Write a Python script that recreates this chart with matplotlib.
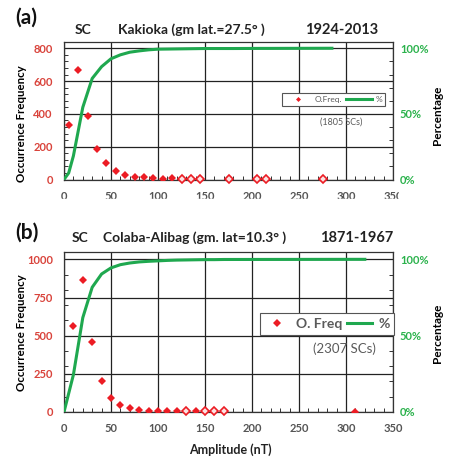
import matplotlib
matplotlib.use('Agg')
import matplotlib.pyplot as plt
from matplotlib.patches import Rectangle
from matplotlib.ticker import MultipleLocator, FuncFormatter

plt.rcParams['font.family'] = ['Lato', 'DejaVu Sans']
plt.rcParams['font.weight'] = 'bold'

# Panel (a): Kakioka
a_amp = [5, 15, 25, 35, 45, 55, 65, 75, 85, 95, 105, 115, 125, 135, 145, 175, 205, 215, 275]
a_freq = [330, 670, 388, 185, 102, 53, 27, 13, 13, 10, 4, 7, 3, 3, 3, 2, 2, 2, 2]
a_open = [125, 135, 145, 175, 205, 215, 275]
a_line_x = [0, 5, 10, 20, 30, 40, 50, 60, 70, 80, 90, 100, 110, 120, 130, 140, 150, 180, 210, 220, 280, 285]
a_line_pct = [0, 5, 18, 55, 77, 86, 92, 95, 97, 98, 98.8, 99.3, 99.4, 99.5, 99.6, 99.7, 99.8, 99.8, 99.9, 99.9, 100, 100]

# Panel (b): Colaba-Alibag
b_amp = [10, 20, 30, 40, 50, 60, 70, 80, 90, 100, 110, 120, 130, 140, 150, 160, 170, 310]
b_freq = [563, 862, 458, 201, 90, 46, 24, 13, 9, 6, 7, 7, 5, 7, 5, 5, 5, 3]
b_open = [130, 150, 160, 170]
b_line_x = [0, 10, 20, 30, 40, 50, 60, 70, 80, 90, 100, 110, 120, 130, 140, 150, 160, 170, 310, 320]
b_line_pct = [0, 24.4, 61.8, 81.7, 90.4, 94.4, 96.5, 97.6, 98.3, 98.7, 99.0, 99.3, 99.5, 99.6, 99.7, 99.8, 99.8, 99.9, 100, 100]

RED = '#ec1c24'
RED_TXT = '#d9433b'
GREEN = '#1fa84f'
GREEN_TXT = '#2bb24c'
GRAY = '#5a5a5a'

W = 463.0


def fx(px):
    return px / W


def fy(py):
    return 1 - py / W


def panel(rect, amp, freq, open_x, lx, lpct, ymax, ystep, yminor,
          leg_pos, leg_fs, leg_hl, leg_ms, note, note_pos, note_fs):
    ax = fig.add_axes(rect)
    filled_x = [x for x in amp if x not in open_x]
    filled_y = [y for x, y in zip(amp, freq) if x not in open_x]
    hollow_y = [y for x, y in zip(amp, freq) if x in open_x]
    pts, = ax.plot(filled_x, filled_y, 'D', color=RED, markersize=4.2,
                   markeredgewidth=0, linestyle='none', label='O. Freq', zorder=3)
    ax.plot(open_x, hollow_y, 'D', markerfacecolor='#fbe3e3', markeredgecolor=RED,
            markersize=3.8, markeredgewidth=1.2, linestyle='none', zorder=3, clip_on=False)
    ax.set_xlim(0, 350)
    ax.set_ylim(0, ymax * 1.05)
    ax.xaxis.set_major_locator(MultipleLocator(50))
    ax.xaxis.set_minor_locator(MultipleLocator(10))
    ax.yaxis.set_major_locator(MultipleLocator(ystep))
    ax.yaxis.set_minor_locator(MultipleLocator(yminor))
    ax.grid(True, which='major', color='#222222', linewidth=0.9)
    ax.tick_params(which='major', length=0)
    ax.tick_params(axis='x', which='major', pad=8, labelsize=8, labelcolor='#555555')
    ax.tick_params(axis='y', which='major', pad=8, labelsize=8, labelcolor=RED_TXT)
    ax.tick_params(which='minor', direction='in', length=3, width=0.7, color='#333333')
    for s in ax.spines.values():
        s.set_color('#333333')
        s.set_linewidth(0.9)

    ax2 = ax.twinx()
    ln, = ax2.plot(lx, lpct, color=GREEN, linewidth=2.2, label='%', zorder=2)
    ax2.set_ylim(0, 105)
    ax2.yaxis.set_major_locator(MultipleLocator(50))
    ax2.yaxis.set_minor_locator(MultipleLocator(10))
    ax2.yaxis.set_major_formatter(FuncFormatter(lambda v, p: f'{int(v)}%'))
    ax2.tick_params(which='major', length=0, pad=5, labelsize=8, labelcolor=GREEN_TXT)
    ax2.tick_params(which='minor', direction='in', length=3, width=0.7, color='#333333')
    for s in ax2.spines.values():
        s.set_visible(False)

    leg = ax2.legend([pts, ln], [pts.get_label() if leg_fs > 7 else 'O.Freq.', '%'],
                     loc='center', bbox_to_anchor=leg_pos, ncol=2, fontsize=leg_fs,
                     handlelength=leg_hl, markerscale=leg_ms, columnspacing=0.4,
                     handletextpad=0.4, borderpad=0.35, fancybox=False,
                     framealpha=1, edgecolor='#555555')
    leg.get_frame().set_linewidth(0.8)
    for t in leg.get_texts():
        t.set_color(GRAY)
        t.set_fontweight('normal' if leg_fs < 7 else 'bold')
    ax2.text(note_pos[0], note_pos[1], note, transform=ax2.transAxes, ha='center',
             va='center', fontsize=note_fs, color=GRAY, fontweight='normal')
    return ax, ax2


fig = plt.figure(figsize=(4.63, 4.63), dpi=100)

panel([fx(64), fy(179.5), fx(329), 137.8 / W], a_amp, a_freq, a_open, a_line_x, a_line_pct,
      800, 200, 40, (0.82, 0.58), 6, 3.2, 0.6, '(1805 SCs)', (0.841, 0.417), 6.5)
panel([fx(64), fy(412), fx(329), 160.3 / W], b_amp, b_freq, b_open, b_line_x, b_line_pct,
      1000, 250, 100, (0.80, 0.549), 10, 1.8, 1.0, '(2307 SCs)', (0.851, 0.397), 9.5)

# crop edges of the original panel (a) image
fig.patches.append(Rectangle((0, fy(219)), 1, 20 / W, transform=fig.transFigure,
                             color='white', zorder=10))
fig.patches.append(Rectangle((fx(399), fy(200)), 1, 15 / W, transform=fig.transFigure,
                             color='white', zorder=10))

# titles
fig.text(fx(15), fy(18), '(a)', fontsize=15, ha='left', va='center', color='#111111')
fig.text(fx(75), fy(30), 'SC', fontsize=10, ha='left', va='center', color='#222222')
fig.text(fx(118), fy(30), 'Kakioka (gm lat.=27.5° )', fontsize=10, ha='left', va='center', color='#222222')
fig.text(fx(305), fy(30), '1924-2013', fontsize=10.5, ha='left', va='center', color='#222222')

fig.text(fx(15), fy(233), '(b)', fontsize=15, ha='left', va='center', color='#111111', zorder=11)
fig.text(fx(72), fy(238), 'SC', fontsize=10, ha='left', va='center', color='#222222', zorder=11)
fig.text(fx(103), fy(238), 'Colaba-Alibag (gm. lat=10.3° )', fontsize=10, ha='left', va='center', color='#222222', zorder=11)
fig.text(fx(320), fy(238), '1871-1967', fontsize=10.5, ha='left', va='center', color='#222222', zorder=11)

# axis labels
fig.text(fx(22), fy(124), 'Occurrence Frequency', rotation=90, fontsize=8.3, ha='center', va='center')
fig.text(fx(438), fy(115), 'Percentage', rotation=90, fontsize=8.5, ha='center', va='center')
fig.text(fx(22), fy(333), 'Occurrence Frequency', rotation=90, fontsize=8.3, ha='center', va='center')
fig.text(fx(438), fy(333), 'Percentage', rotation=90, fontsize=8.5, ha='center', va='center')
fig.text(fx(230), fy(450), 'Amplitude (nT)', fontsize=9, ha='center', va='center', color='#222222')

fig.savefig('out.png', dpi=100)
